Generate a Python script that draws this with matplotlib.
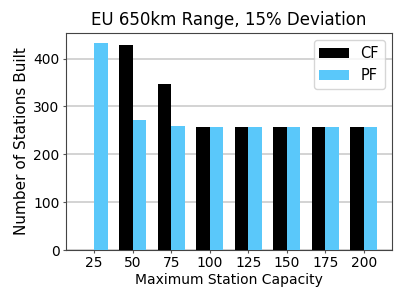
import matplotlib
matplotlib.use("Agg")
import matplotlib.pyplot as plt
import numpy as np

# Data
capacities = [25, 50, 75, 100, 125, 150, 175, 200]
cf_built = [0, 428, 347, 258, 258, 258, 258, 258]
pf_built = [432, 272, 259, 258, 258, 258, 258, 258]


def main():
    bar_width = 0.35
    x = np.arange(len(capacities))

    fig = plt.figure(figsize=(4.07, 3.05), dpi=100)
    ax = fig.add_axes([0.162, 0.180, 0.801, 0.712])

    ax.bar(x - bar_width / 2, cf_built, bar_width, label='CF', color='black', zorder=3)
    ax.bar(x + bar_width / 2, pf_built, bar_width, label='PF', color='#5ac8fa', zorder=3)

    ax.set_title('EU 650km Range, 15% Deviation', fontsize=12)
    ax.set_xlabel('Maximum Station Capacity', fontsize=10, labelpad=2)
    ax.set_ylabel('Number of Stations Built', fontsize=11, labelpad=3)
    ax.set_xticks(x)
    ax.set_xticklabels([str(c) for c in capacities])
    ax.tick_params(labelsize=10, length=2.5, pad=2, color='#555555')
    ax.set_yticks([0, 100, 200, 300, 400])
    ax.yaxis.grid(True, color='#cccccc', linewidth=1.2, zorder=0)
    for s in ax.spines.values():
        s.set_color('#444444')
    ax.legend(loc='upper right', fontsize=10.5)

    fig.savefig('out.png', dpi=100)


if __name__ == "__main__":
    main()
